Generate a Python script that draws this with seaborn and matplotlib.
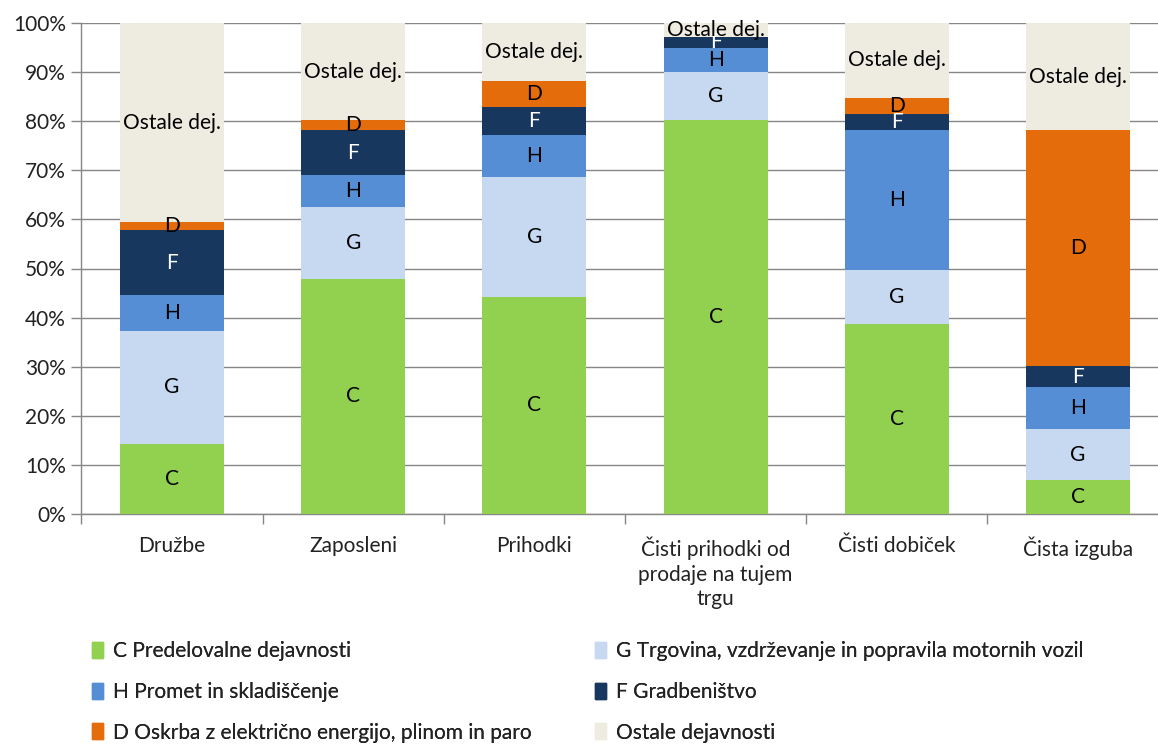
import matplotlib
matplotlib.use("Agg")
import matplotlib.pyplot as plt
import matplotlib.patches as mpatches
from matplotlib.ticker import FixedLocator, PercentFormatter
import seaborn as sns
import pandas as pd
import numpy as np

categories = ["Družbe", "Zaposleni", "Prihodki",
              "Čisti prihodki od\nprodaje na tujem\ntrgu", "Čisti dobiček", "Čista izguba"]
sector_codes = ["C", "G", "H", "F", "D", "Ostale dej."]
legend_labels = ["C Predelovalne dejavnosti",
                 "G Trgovina, vzdrževanje in popravila motornih vozil",
                 "H Promet in skladiščenje",
                 "F Gradbeništvo",
                 "D Oskrba z električno energijo, plinom in paro",
                 "Ostale dejavnosti"]
C_vals = [14.3, 47.9, 44.2, 80.2, 38.7, 6.9]
G_vals = [23.0, 14.6, 24.4, 9.8, 11.0, 10.4]
H_vals = [7.3, 6.5, 8.6, 5.0, 28.5, 8.6]
F_vals = [13.2, 9.2, 5.7, 2.1, 3.2, 4.2]
D_vals = [1.6, 2.0, 5.3, 0.0, 3.4, 48.1]
O_vals = [40.6, 19.8, 11.8, 2.9, 15.2, 21.8]

colors = ["#92D050", "#C6D9F1", "#558ED5", "#17375E", "#E46C0A", "#EEECE1"]
text_colors = ["black", "black", "black", "white", "black", "black"]

sns.set_style("white")
plt.rcParams["font.family"] = ["Lato", "DejaVu Sans"]
FS = 15

series = [C_vals, G_vals, H_vals, F_vals, D_vals, O_vals]
vals = np.array(series)
cum = np.cumsum(vals, axis=0)

fig = plt.figure(figsize=(11.58, 7.45), dpi=100)
ax_left = 81.4
ax_w = 6 * 181.2
ax = fig.add_axes([ax_left / 1158, 1 - 514 / 745, ax_w / 1158, (514 - 23) / 745])

x_labels = [f"cat{i}" for i in range(len(categories))]
for k in range(len(series) - 1, -1, -1):
    df = pd.DataFrame({"cat": x_labels, "val": cum[k]})
    sns.barplot(data=df, x="cat", y="val", color=colors[k], width=0.575,
                saturation=1, ax=ax, zorder=3, edgecolor="none", linewidth=0)

# segment labels
for k in range(len(series)):
    for i in range(len(categories)):
        v = vals[k, i]
        if v <= 0:
            continue
        y = cum[k, i] - v / 2
        ax.text(i, y, sector_codes[k], ha="center", va="center",
                color=text_colors[k], fontsize=FS, zorder=5)

ax.set_ylim(0, 100)
ax.set_xlim(-0.5, 5.5)
ax.yaxis.set_major_locator(FixedLocator(np.arange(0, 101, 10)))
ax.yaxis.set_major_formatter(PercentFormatter(decimals=0))
ax.set_xticks(range(len(categories)))
ax.set_xticklabels(categories, fontsize=FS, color="#222222", linespacing=1.3)
ax.tick_params(axis="y", labelsize=FS, labelcolor="#222222", length=7,
               color="#868686", width=1, pad=4, left=True)
ax.tick_params(axis="x", length=0, pad=16)
ax.grid(axis="y", color="#868686", linewidth=1, zorder=0)
ax.set_axisbelow(True)
ax.set_xlabel("")
ax.set_ylabel("")
for s in ["top", "right"]:
    ax.spines[s].set_visible(False)
for s in ["left", "bottom"]:
    ax.spines[s].set_color("#868686")
    ax.spines[s].set_linewidth(1)

# category boundary ticks on x axis
ax.set_xticks(np.arange(-0.5, 6, 1), minor=True)
ax.tick_params(axis="x", which="minor", length=7, color="#868686", width=1, bottom=True)

# legend: two columns placed independently
handles = [mpatches.Patch(color=colors[k], label=legend_labels[k]) for k in range(6)]
col_sets = [([0, 2, 4], 92), ([1, 3, 5], 595)]
for idx, x0 in col_sets:
    leg = fig.legend([handles[i] for i in idx], [legend_labels[i] for i in idx],
                     ncol=1, loc="upper left", bbox_to_anchor=(x0 / 1158, 1 - 641 / 745),
                     frameon=False, fontsize=FS, handlelength=0.55, handleheight=0.8,
                     handletextpad=0.45, labelspacing=1.0,
                     borderaxespad=0, borderpad=0)
    for t in leg.get_texts():
        t.set_color("#222222")
    fig.add_artist(leg)

fig.savefig("out.png", dpi=100)
